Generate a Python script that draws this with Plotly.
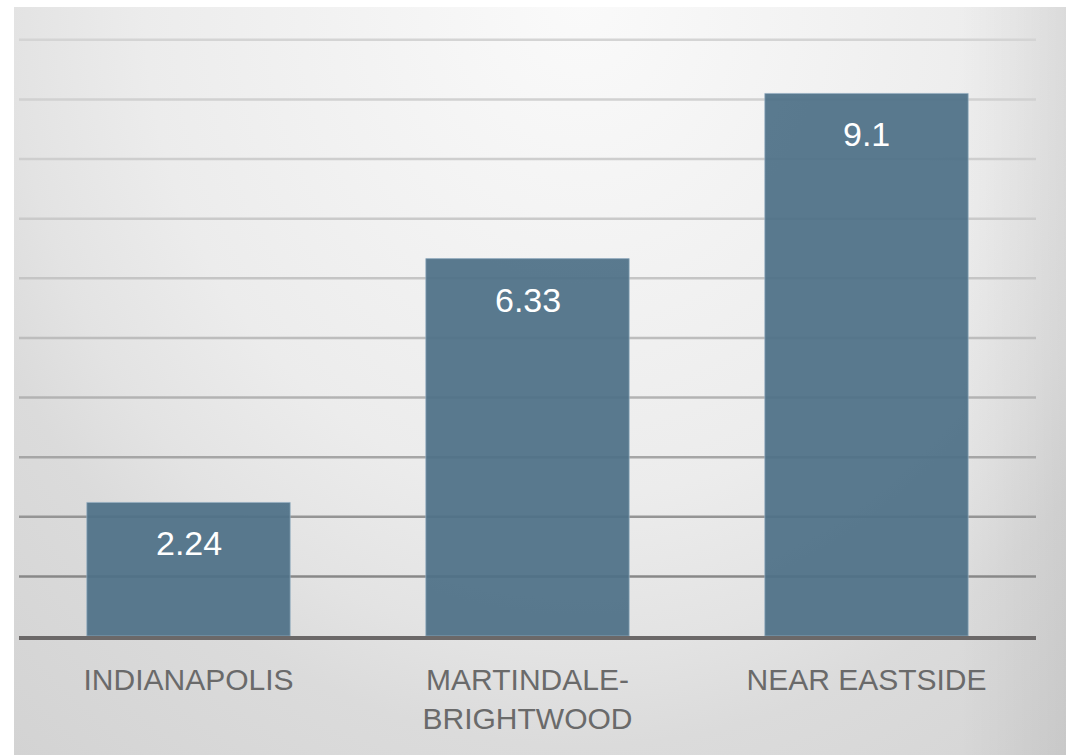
import base64
import plotly.graph_objects as go

# Data
categories = ["INDIANAPOLIS", "MARTINDALE-<br>BRIGHTWOOD", "NEAR EASTSIDE"]
values = [2.24, 6.33, 9.1]
value_labels = ["2.24", "6.33", "9.1"]
grid_values = [1, 2, 3, 4, 5, 6, 7, 8, 9, 10]

# Figure geometry (pixels)
W, H = 1071, 755
ML, MR, MT, MB = 19, 35, 7, 119
plot_w = W - ML - MR
plot_h = H - MT - MB
y_max = 10.55

# Soft grey vignette background as an inline SVG
bg_x0, bg_y0, bg_x1, bg_y1 = 14, 7, 1066, 755
bw, bh = bg_x1 - bg_x0, bg_y1 - bg_y0
cx, cy = 580 - bg_x0, 0 - bg_y0
svg = f"""<svg xmlns='http://www.w3.org/2000/svg' width='{bw}' height='{bh}' viewBox='0 0 {bw} {bh}' preserveAspectRatio='none'>
<defs>
<radialGradient id='g' gradientUnits='userSpaceOnUse' cx='{cx}' cy='{cy}' r='870'
 gradientTransform='translate({cx} {cy}) scale(1 1.143) translate({-cx} {-cy})'>
<stop offset='0' stop-color='rgb(250,250,250)'/>
<stop offset='0.5' stop-color='rgb(236,236,236)'/>
<stop offset='0.653' stop-color='rgb(227,227,227)'/>
<stop offset='0.75' stop-color='rgb(219,219,219)'/>
<stop offset='1' stop-color='rgb(211,211,211)'/>
</radialGradient>
<linearGradient id='r' gradientUnits='userSpaceOnUse' x1='{960 - bg_x0}' y1='0' x2='{bw}' y2='0'>
<stop offset='0' stop-color='black' stop-opacity='0'/>
<stop offset='1' stop-color='black' stop-opacity='0.06'/>
</linearGradient>
</defs>
<rect x='0' y='0' width='{bw}' height='{bh}' fill='url(#g)'/>
<rect x='0' y='0' width='{bw}' height='{bh}' fill='url(#r)'/>
</svg>"""
bg_src = "data:image/svg+xml;base64," + base64.b64encode(svg.encode()).decode()

# Gridlines fade from dark near the baseline to light at the top
grid_colors = ["#888888", "#959595", "#a6a6a6", "#b3b3b3", "#bdbdbd",
               "#c5c5c5", "#cacaca", "#cecece", "#d1d1d1", "#d4d4d4"]
shapes = [
    dict(type="line", xref="paper", yref="y", x0=0, x1=1, y0=v, y1=v,
         line=dict(color=c, width=2.5), layer="below")
    for v, c in zip(grid_values, grid_colors)
]

fig = go.Figure(
    go.Bar(
        x=categories,
        y=values,
        marker=dict(color="rgba(78,112,134,0.93)",
                    line=dict(color="rgba(150,175,195,0.7)", width=1)),
        width=0.6,
        hoverinfo="skip",
    )
)

annotations = [
    dict(x=c, y=v, xref="x", yref="y", text=t, showarrow=False,
         yanchor="middle", yshift=-41,
         font=dict(family="Liberation Sans, Arial, sans-serif", size=34, color="white"))
    for c, v, t in zip(categories, values, value_labels)
]

fig.update_layout(
    width=W, height=H,
    margin=dict(l=ML, r=MR, t=MT, b=MB, autoexpand=False),
    paper_bgcolor="white",
    plot_bgcolor="rgba(0,0,0,0)",
    showlegend=False,
    shapes=shapes,
    annotations=annotations,
    images=[dict(
        source=bg_src, xref="paper", yref="paper",
        x=(bg_x0 - ML) / plot_w, y=1 + (MT - bg_y0) / plot_h,
        sizex=bw / plot_w, sizey=bh / plot_h,
        xanchor="left", yanchor="top", sizing="stretch", layer="below",
    )],
    xaxis=dict(
        showgrid=False, zeroline=False, ticks="",
        showline=True, linecolor="#6b6868", linewidth=4,
        tickfont=dict(family="Liberation Sans, Arial, sans-serif",
                      size=30, color="#6a6a6a"),
        ticklabelstandoff=14,
        fixedrange=True,
    ),
    yaxis=dict(
        range=[0, y_max], showgrid=False, zeroline=False,
        showticklabels=False, ticks="", fixedrange=True,
    ),
    bargap=0.4,
)

fig.write_html("out.html")
